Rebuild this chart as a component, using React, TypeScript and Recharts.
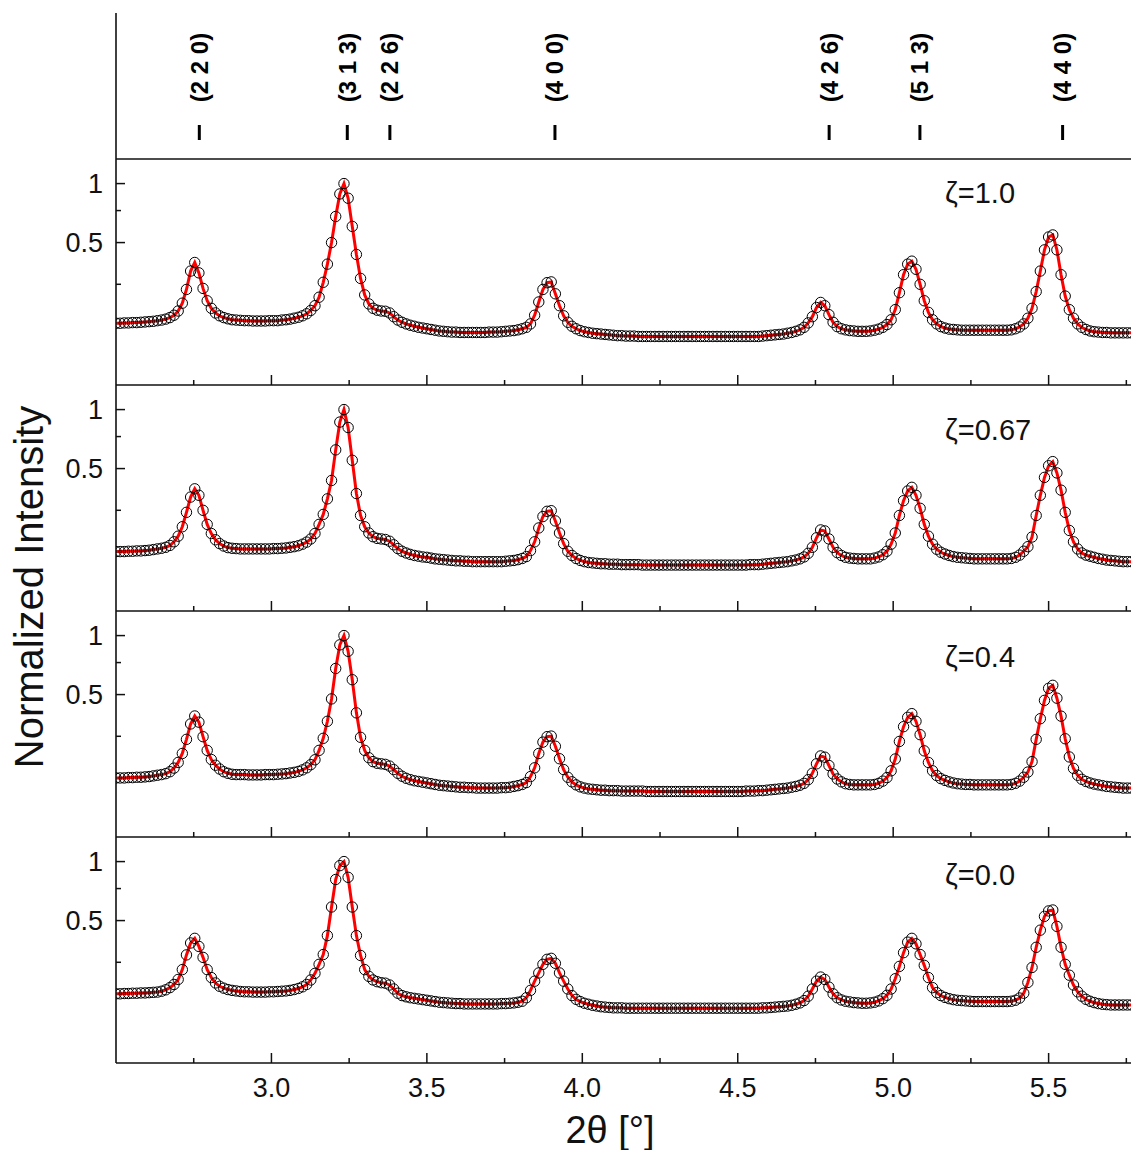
import { LineChart, Line, XAxis, YAxis, ScatterChart, Scatter } from "recharts";

// scan grid: 2θ from 2.5° in steps of 1/75°
const X_START = 2.5;
const X_STEP = 1 / 75;
const X_DOMAIN = [2.5, 5.765];
const X_TICKS = [2.75, 3.0, 3.25, 3.5, 3.75, 4.0, 4.25, 4.5, 4.75, 5.0, 5.25, 5.5, 5.75];
const Y_TICKS = [0.25, 0.5, 0.75, 1];
const Y_LABELS = [0.5, 1];

const zeta10 = [
  0.094, 0.094, 0.095, 0.095, 0.096, 0.096, 0.097, 0.098, 0.099, 0.100,
  0.102, 0.104, 0.107, 0.112, 0.120, 0.135, 0.165, 0.225, 0.320, 0.370,
  0.310, 0.230, 0.175, 0.145, 0.128, 0.118, 0.112, 0.108, 0.105, 0.104,
  0.103, 0.102, 0.102, 0.101, 0.101, 0.101, 0.101, 0.102, 0.102, 0.102,
  0.104, 0.105, 0.107, 0.110, 0.113, 0.118, 0.125, 0.137, 0.155, 0.190,
  0.260, 0.360, 0.500, 0.700, 0.900, 1.000, 0.860, 0.620, 0.420, 0.280,
  0.200, 0.162, 0.145, 0.138, 0.135, 0.134, 0.128, 0.115, 0.104, 0.097,
  0.092, 0.088, 0.085, 0.082, 0.080, 0.078, 0.076, 0.074, 0.072, 0.071,
  0.070, 0.069, 0.069, 0.068, 0.068, 0.068, 0.068, 0.068, 0.068, 0.068,
  0.069, 0.069, 0.069, 0.070, 0.071, 0.072, 0.073, 0.075, 0.078, 0.082,
  0.092, 0.120, 0.170, 0.225, 0.258, 0.262, 0.205, 0.155, 0.118, 0.097,
  0.085, 0.078, 0.073, 0.070, 0.068, 0.066, 0.065, 0.064, 0.063, 0.062,
  0.061, 0.060, 0.060, 0.059, 0.059, 0.059, 0.058, 0.058, 0.058, 0.058,
  0.058, 0.058, 0.058, 0.058, 0.058, 0.058, 0.058, 0.058, 0.058, 0.058,
  0.058, 0.058, 0.058, 0.058, 0.058, 0.058, 0.058, 0.058, 0.058, 0.058,
  0.058, 0.058, 0.058, 0.058, 0.058, 0.058, 0.059, 0.060, 0.061, 0.062,
  0.063, 0.064, 0.066, 0.068, 0.071, 0.075, 0.082, 0.095, 0.115, 0.148,
  0.168, 0.155, 0.122, 0.097, 0.084, 0.078, 0.075, 0.073, 0.072, 0.071,
  0.071, 0.071, 0.072, 0.074, 0.077, 0.082, 0.090, 0.105, 0.140, 0.210,
  0.300, 0.360, 0.378, 0.330, 0.250, 0.175, 0.130, 0.105, 0.092, 0.084,
  0.080, 0.077, 0.076, 0.075, 0.074, 0.074, 0.074, 0.074, 0.074, 0.074,
  0.074, 0.074, 0.074, 0.074, 0.074, 0.074, 0.075, 0.078, 0.083, 0.092,
  0.110, 0.145, 0.215, 0.320, 0.450, 0.540, 0.555, 0.450, 0.300, 0.195,
  0.140, 0.110, 0.092, 0.082, 0.076, 0.072, 0.070, 0.069, 0.068, 0.068,
  0.067, 0.067, 0.067, 0.067, 0.067, 0.067,
];

const zeta067 = [
  0.087, 0.087, 0.087, 0.088, 0.088, 0.089, 0.089, 0.090, 0.091, 0.093,
  0.095, 0.097, 0.100, 0.106, 0.118, 0.138, 0.175, 0.240, 0.320, 0.368,
  0.330, 0.250, 0.185, 0.148, 0.125, 0.112, 0.104, 0.099, 0.097, 0.096,
  0.095, 0.095, 0.095, 0.095, 0.095, 0.095, 0.095, 0.095, 0.096, 0.096,
  0.097, 0.098, 0.100, 0.102, 0.105, 0.110, 0.117, 0.128, 0.148, 0.185,
  0.230, 0.310, 0.420, 0.640, 0.880, 1.000, 0.830, 0.560, 0.340, 0.225,
  0.175, 0.150, 0.136, 0.130, 0.128, 0.126, 0.120, 0.108, 0.096, 0.088,
  0.083, 0.079, 0.076, 0.074, 0.072, 0.071, 0.069, 0.067, 0.066, 0.065,
  0.064, 0.063, 0.062, 0.062, 0.061, 0.061, 0.060, 0.060, 0.060, 0.060,
  0.060, 0.060, 0.060, 0.060, 0.061, 0.062, 0.063, 0.065, 0.068, 0.073,
  0.090, 0.118, 0.170, 0.220, 0.245, 0.248, 0.200, 0.150, 0.112, 0.088,
  0.076, 0.068, 0.063, 0.060, 0.058, 0.057, 0.056, 0.055, 0.055, 0.054,
  0.054, 0.054, 0.053, 0.053, 0.053, 0.053, 0.053, 0.052, 0.052, 0.052,
  0.052, 0.052, 0.052, 0.052, 0.052, 0.052, 0.052, 0.052, 0.052, 0.052,
  0.052, 0.052, 0.052, 0.052, 0.052, 0.052, 0.052, 0.052, 0.052, 0.052,
  0.052, 0.052, 0.052, 0.053, 0.053, 0.053, 0.054, 0.055, 0.056, 0.057,
  0.058, 0.059, 0.060, 0.062, 0.064, 0.067, 0.072, 0.082, 0.100, 0.132,
  0.162, 0.158, 0.128, 0.100, 0.084, 0.076, 0.071, 0.069, 0.068, 0.067,
  0.067, 0.067, 0.067, 0.069, 0.072, 0.078, 0.088, 0.110, 0.150, 0.225,
  0.300, 0.355, 0.377, 0.330, 0.260, 0.185, 0.138, 0.110, 0.094, 0.085,
  0.080, 0.076, 0.073, 0.071, 0.070, 0.069, 0.068, 0.067, 0.067, 0.067,
  0.067, 0.067, 0.067, 0.067, 0.067, 0.067, 0.068, 0.071, 0.077, 0.088,
  0.102, 0.135, 0.225, 0.330, 0.440, 0.520, 0.550, 0.470, 0.360, 0.240,
  0.160, 0.118, 0.095, 0.083, 0.077, 0.074, 0.071, 0.068, 0.066, 0.064,
  0.063, 0.062, 0.061, 0.060, 0.060, 0.060,
];

const zeta04 = [
  0.086, 0.086, 0.086, 0.087, 0.087, 0.088, 0.088, 0.089, 0.090, 0.092,
  0.094, 0.096, 0.099, 0.105, 0.117, 0.137, 0.172, 0.235, 0.315, 0.361,
  0.325, 0.248, 0.185, 0.148, 0.127, 0.114, 0.105, 0.100, 0.097, 0.096,
  0.096, 0.096, 0.095, 0.095, 0.095, 0.095, 0.096, 0.096, 0.096, 0.097,
  0.098, 0.099, 0.101, 0.103, 0.106, 0.111, 0.118, 0.129, 0.147, 0.185,
  0.240, 0.330, 0.470, 0.700, 0.910, 1.000, 0.850, 0.610, 0.380, 0.245,
  0.185, 0.155, 0.140, 0.134, 0.132, 0.130, 0.124, 0.112, 0.100, 0.091,
  0.085, 0.081, 0.078, 0.076, 0.074, 0.072, 0.070, 0.068, 0.066, 0.065,
  0.064, 0.063, 0.062, 0.061, 0.061, 0.060, 0.060, 0.059, 0.059, 0.059,
  0.059, 0.059, 0.059, 0.060, 0.060, 0.061, 0.063, 0.065, 0.068, 0.073,
  0.090, 0.118, 0.172, 0.222, 0.248, 0.251, 0.203, 0.151, 0.112, 0.088,
  0.075, 0.067, 0.062, 0.059, 0.057, 0.056, 0.055, 0.054, 0.054, 0.053,
  0.053, 0.053, 0.052, 0.052, 0.052, 0.052, 0.052, 0.052, 0.051, 0.051,
  0.051, 0.051, 0.051, 0.051, 0.051, 0.051, 0.051, 0.051, 0.051, 0.051,
  0.051, 0.051, 0.051, 0.051, 0.051, 0.051, 0.051, 0.051, 0.051, 0.051,
  0.051, 0.051, 0.052, 0.052, 0.052, 0.053, 0.053, 0.054, 0.055, 0.056,
  0.057, 0.058, 0.059, 0.061, 0.063, 0.066, 0.071, 0.081, 0.100, 0.132,
  0.162, 0.157, 0.126, 0.098, 0.083, 0.075, 0.070, 0.068, 0.067, 0.067,
  0.067, 0.067, 0.067, 0.068, 0.071, 0.077, 0.087, 0.108, 0.150, 0.225,
  0.300, 0.353, 0.375, 0.330, 0.258, 0.183, 0.137, 0.108, 0.093, 0.084,
  0.079, 0.075, 0.072, 0.070, 0.069, 0.068, 0.068, 0.067, 0.067, 0.067,
  0.067, 0.067, 0.067, 0.067, 0.067, 0.067, 0.068, 0.071, 0.077, 0.088,
  0.104, 0.140, 0.235, 0.345, 0.460, 0.545, 0.567, 0.475, 0.360, 0.238,
  0.158, 0.116, 0.094, 0.082, 0.076, 0.072, 0.069, 0.067, 0.065, 0.063,
  0.062, 0.061, 0.060, 0.059, 0.059, 0.059,
];

const zeta00 = [
  0.118, 0.118, 0.119, 0.119, 0.120, 0.120, 0.121, 0.121, 0.122, 0.123,
  0.124, 0.127, 0.132, 0.140, 0.152, 0.172, 0.215, 0.288, 0.355, 0.383,
  0.335, 0.275, 0.215, 0.180, 0.158, 0.145, 0.138, 0.133, 0.130, 0.128,
  0.126, 0.125, 0.125, 0.124, 0.124, 0.124, 0.124, 0.125, 0.125, 0.126,
  0.127, 0.128, 0.130, 0.133, 0.137, 0.143, 0.152, 0.170, 0.198, 0.240,
  0.290, 0.400, 0.600, 0.830, 0.960, 1.000, 0.850, 0.600, 0.400, 0.285,
  0.215, 0.185, 0.170, 0.163, 0.159, 0.157, 0.150, 0.135, 0.120, 0.112,
  0.108, 0.105, 0.103, 0.101, 0.099, 0.097, 0.095, 0.093, 0.091, 0.090,
  0.089, 0.088, 0.087, 0.087, 0.086, 0.086, 0.086, 0.086, 0.086, 0.086,
  0.086, 0.086, 0.086, 0.087, 0.087, 0.088, 0.089, 0.091, 0.094, 0.105,
  0.130, 0.165, 0.200, 0.240, 0.265, 0.270, 0.245, 0.200, 0.165, 0.135,
  0.112, 0.100, 0.093, 0.088, 0.085, 0.082, 0.080, 0.078, 0.077, 0.076,
  0.075, 0.075, 0.075, 0.074, 0.074, 0.074, 0.074, 0.074, 0.074, 0.074,
  0.074, 0.074, 0.074, 0.074, 0.074, 0.074, 0.074, 0.074, 0.074, 0.074,
  0.074, 0.074, 0.074, 0.074, 0.074, 0.074, 0.074, 0.074, 0.074, 0.074,
  0.074, 0.074, 0.074, 0.074, 0.074, 0.074, 0.075, 0.075, 0.076, 0.077,
  0.078, 0.079, 0.080, 0.082, 0.085, 0.089, 0.096, 0.110, 0.135, 0.165,
  0.182, 0.172, 0.142, 0.118, 0.105, 0.098, 0.094, 0.092, 0.090, 0.089,
  0.088, 0.088, 0.089, 0.091, 0.095, 0.102, 0.113, 0.135, 0.175, 0.230,
  0.300, 0.360, 0.383, 0.350, 0.290, 0.235, 0.180, 0.140, 0.122, 0.112,
  0.106, 0.102, 0.099, 0.097, 0.096, 0.095, 0.094, 0.093, 0.093, 0.093,
  0.093, 0.093, 0.093, 0.093, 0.093, 0.093, 0.094, 0.097, 0.104, 0.120,
  0.160, 0.225, 0.330, 0.435, 0.530, 0.570, 0.577, 0.460, 0.330, 0.240,
  0.190, 0.150, 0.125, 0.110, 0.100, 0.094, 0.090, 0.087, 0.085, 0.084,
  0.083, 0.083, 0.083, 0.083, 0.083, 0.083,
];

// Bragg reflection positions (2θ) and their indices
const reflPos = [2.768, 3.244, 3.381, 3.912, 4.794, 5.086, 5.545];
const reflLabels = ["(2 2 0)", "(3 1 3)", "(2 2 6)", "(4 0 0)", "(4 2 6)", "(5 1 3)", "(4 4 0)"];

const panelLabels = ["ζ=1.0", "ζ=0.67", "ζ=0.4", "ζ=0.0"];
const panelSeries = [zeta10, zeta067, zeta04, zeta00];

const FONT = "Arial, 'Liberation Sans', Helvetica, sans-serif";
const INK = "#111";
const PLOT_H = 226;
const PANEL_TOPS = [159, 385, 611, 837];
const LABEL_BASELINES = [203, 440, 667, 885];
const REFL_LEVEL = 0.1815;

const toRows = (values: number[]) =>
  values.map((v, i) => ({ x: X_START + i * X_STEP, v }));

const isMajorX = (v: number) => Math.abs(v * 2 - Math.round(v * 2)) < 1e-6;

const XTick = (props: any) => {
  const { x, y, payload, showLabel } = props;
  const major = isMajorX(payload.value);
  return (
    <g>
      <line x1={x} x2={x} y1={y} y2={y - (major ? 10 : 5)} stroke={INK} strokeWidth={1.5} />
      {showLabel && major && (
        <text x={x} y={y + 34} textAnchor="middle" fontSize={27} fill={INK}>
          {payload.value.toFixed(1)}
        </text>
      )}
    </g>
  );
};

const YTick = (props: any) => {
  const { x, y, payload } = props;
  const major = Y_LABELS.includes(payload.value);
  return (
    <g>
      <line x1={x} x2={x + (major ? 9 : 5)} y1={y} y2={y} stroke={INK} strokeWidth={1.5} />
      {major && (
        <text x={x - 13} y={y} dy="0.36em" textAnchor="end" fontSize={27} fill={INK}>
          {String(payload.value)}
        </text>
      )}
    </g>
  );
};

const Reflection = (props: any) => {
  const { cx, cy, payload } = props;
  return (
    <g>
      <line x1={cx} x2={cx} y1={cy - 7.5} y2={cy + 7.5} stroke="#000" strokeWidth={3} />
      <text
        transform={`translate(${cx + 8.5},${cy - 65}) rotate(-90)`}
        textAnchor="middle"
        fontSize={24}
        fontWeight="bold"
        fill="#000"
      >
        {payload.label}
      </text>
    </g>
  );
};

const axisStyle = { stroke: INK, strokeWidth: 1.6 };

const ReflectionPanel = () => {
  const rows = reflPos.map((p, i) => ({ x: p, y: REFL_LEVEL, label: reflLabels[i] }));
  return (
    <ScatterChart width={1131} height={162} margin={{ top: 13, right: 0, bottom: 0, left: 0 }}>
      <XAxis type="number" dataKey="x" domain={X_DOMAIN} allowDataOverflow height={3}
        tick={false} tickLine={false} axisLine={axisStyle} />
      <XAxis xAxisId="top" orientation="top" type="number" dataKey="x" domain={X_DOMAIN}
        allowDataOverflow height={0} tick={false} tickLine={false} axisLine={axisStyle} />
      <YAxis type="number" dataKey="y" domain={[0, 1]} width={116} tick={false}
        tickLine={false} axisLine={axisStyle} />
      <Scatter data={rows} shape={(p: any) => <Reflection {...p} />} isAnimationActive={false} />
    </ScatterChart>
  );
};

const DataPanel = ({ values, last }: { values: number[]; last: boolean }) => {
  const rows = toRows(values);
  const xH = last ? 87 : 2;
  return (
    <LineChart width={1131} height={PLOT_H + xH} data={rows}
      margin={{ top: 0, right: 0, bottom: 0, left: 0 }}>
      <XAxis type="number" dataKey="x" domain={X_DOMAIN} allowDataOverflow ticks={X_TICKS}
        interval={0} tickSize={0} tickMargin={0} height={xH} axisLine={axisStyle}
        tickLine={false} tick={(p: any) => <XTick {...p} showLabel={last} />} />
      <YAxis type="number" scale="sqrt" domain={[0, 1.259]} allowDataOverflow ticks={Y_TICKS}
        interval={0} tickSize={0} tickMargin={0} width={116} axisLine={axisStyle}
        tickLine={false} tick={(p: any) => <YTick {...p} />} />
      <Line dataKey="v" stroke="none" isAnimationActive={false} activeDot={false}
        dot={{ r: 5.2, fill: "none", stroke: "#000", strokeWidth: 1 }} />
      <Line dataKey="v" type="linear" stroke="#ff0000" strokeWidth={3} dot={false}
        activeDot={false} isAnimationActive={false} />
    </LineChart>
  );
};

export default function App() {
  return (
    <div style={{ position: "absolute", left: 0, top: 0, width: 1131, height: 1150,
      background: "#fff", fontFamily: FONT, overflow: "hidden" }}>
      <div style={{ position: "absolute", left: 0, top: 0 }}>
        <ReflectionPanel />
      </div>
      {panelSeries.map((vals, i) => (
        <div key={panelLabels[i]} style={{ position: "absolute", left: 0, top: PANEL_TOPS[i] }}>
          <DataPanel values={vals} last={i === panelSeries.length - 1} />
        </div>
      ))}
      <svg width={1131} height={1150}
        style={{ position: "absolute", left: 0, top: 0, pointerEvents: "none" }}>
        {panelLabels.map((t, i) => (
          <text key={t} x={945} y={LABEL_BASELINES[i]} fontSize={29} fill={INK}>{t}</text>
        ))}
        <text transform="translate(43,587) rotate(-90)" textAnchor="middle" fontSize={40} fill={INK}>
          Normalized Intensity
        </text>
        <text x={610} y={1143} textAnchor="middle" fontSize={38} fill={INK}>2θ [°]</text>
      </svg>
    </div>
  );
}
